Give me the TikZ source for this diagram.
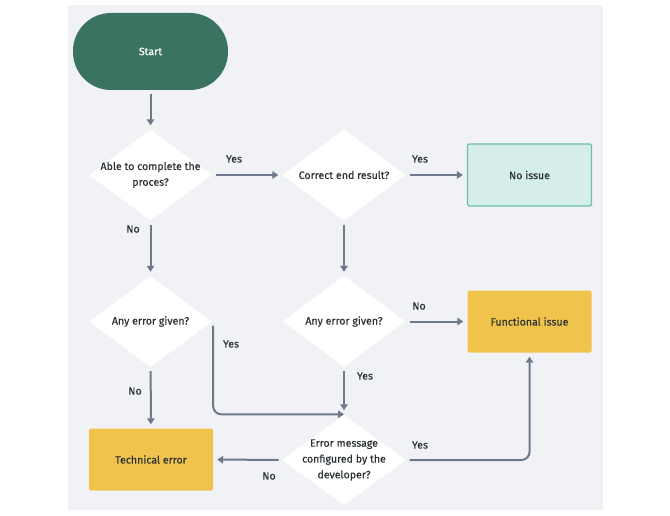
\documentclass[tikz,border=0pt]{standalone}
\usepackage{fontspec}
\setmainfont{Fira Sans}[FakeBold=0.4]
\usetikzlibrary{shapes.geometric,arrows.meta}
\definecolor{bg}{HTML}{F0F2F5}
\definecolor{startc}{HTML}{3B7362}
\definecolor{yel}{HTML}{F0C44C}
\definecolor{tealf}{HTML}{D5EEEA}
\definecolor{tealb}{HTML}{6BBFAE}
\definecolor{arr}{HTML}{6E7A8B}
\definecolor{txt}{HTML}{2C3135}
\begin{document}
\begin{tikzpicture}[x=1pt,y=-1pt,
 every node/.style={font=\fontsize{10.6}{15.8}\selectfont, text=txt},
 dec/.style={shape=diamond, fill=white, minimum width=123pt, minimum height=91pt, inner sep=-14pt, align=center},
 box/.style={rectangle, rounded corners=2pt, minimum width=124pt, minimum height=62pt},
 conn/.style={draw=arr, line width=2pt, -{Triangle[length=6pt,width=7.5pt]}, shorten <=4pt, shorten >=4pt, rounded corners=8pt},
 lbl/.style={inner sep=1pt}]
\useasboundingbox (0,0) rectangle (670,516);
\fill[bg] (68,5) rectangle (603,510);
\node[rectangle, fill=startc, rounded corners=38pt, minimum width=155pt, minimum height=77pt, text=white] (start) at (150.5,51.5) {Start};
\node[dec] (d1) at (150.5,175) {Able to complete the\\proces?};
\node[dec] (d2) at (344,175) {Correct end result?};
\node[box, fill=tealf, draw=tealb, line width=1.2pt] (noissue) at (529.5,175) {No issue};
\node[dec] (d3) at (150.5,321.5) {Any error given?};
\node[dec] (d4) at (344,321.5) {Any error given?};
\node[box, fill=yel] (func) at (529.5,321.5) {Functional issue};
\node[dec] (d5) at (344,460) {Error message\\configured by the\\developer?};
\node[box, fill=yel] (tech) at (151,459.5) {Technical error};

\draw[conn] (start) -- (d1);
\draw[conn] (d1) -- (d2);
\draw[conn] (d2) -- (noissue);
\draw[conn] (d1) -- (d3);
\draw[conn] (d2) -- (d4);
\draw[conn] (d4) -- (func);
\draw[conn] (d3) -- (tech);
\draw[conn] (d4) -- (d5);
\draw[conn, shorten <=0pt, shorten >=0pt] ([xshift=1pt,yshift=-4pt]d3.east) |- (d5.north);
\draw[conn] (d5) -- (tech);
\draw[conn] (d5.east) -| (func.south);

\node[lbl] (l1) at (234,159) {Yes};
\node[lbl] (l2) at (420,159) {Yes};
\node[lbl] (l3) at (133,229) {No};
\node[lbl] (l4) at (419,306) {No};
\node[lbl] (l5) at (231,344) {Yes};
\node[lbl] (l6) at (365,376) {Yes};
\node[lbl] (l7) at (135,391) {No};
\node[lbl] (l8) at (420,445) {Yes};
\node[lbl] (l9) at (269,476) {No};
\end{tikzpicture}
\end{document}
